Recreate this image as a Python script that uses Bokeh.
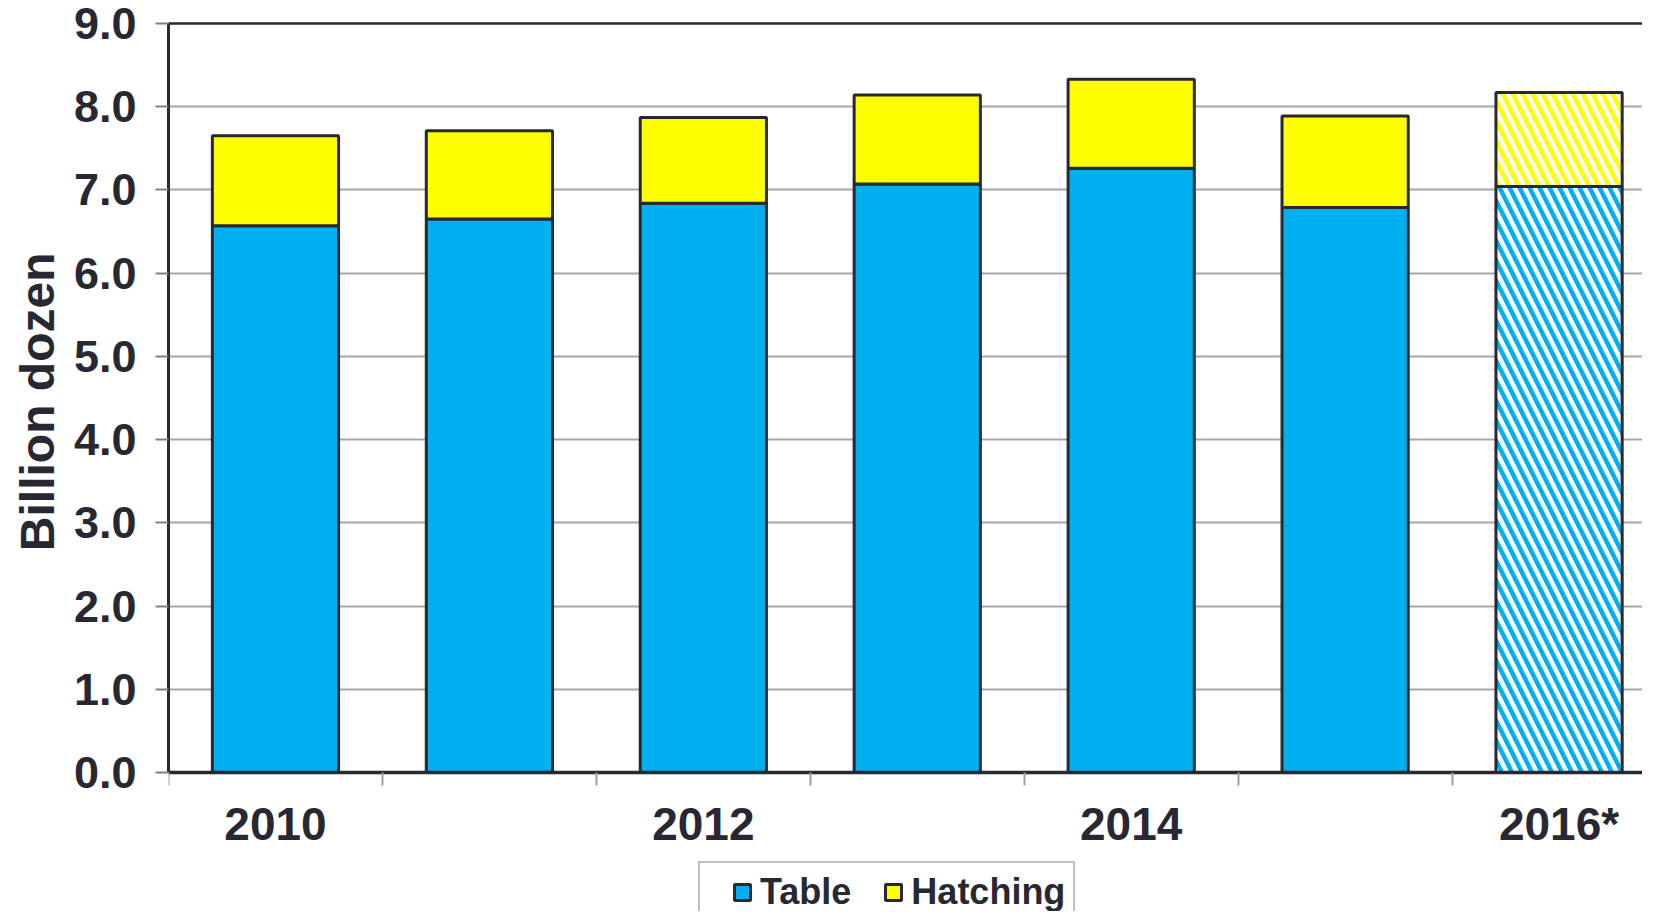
from bokeh.plotting import figure
from bokeh.models import (ColumnDataSource, FixedTicker, LinearAxis, Legend, LegendItem,
                          NumeralTickFormatter, Range1d, Title)
from bokeh.embed import file_html
from bokeh.resources import INLINE

years = ["2010", "2011", "2012", "2013", "2014", "2015", "2016*"]
table = [6.57, 6.65, 6.84, 7.07, 7.26, 6.79, 7.04]
hatching = [1.08, 1.06, 1.03, 1.07, 1.07, 1.10, 1.13]
estimate = [False, False, False, False, False, False, True]
shown_labels = ["2010", "2012", "2014", "2016*"]

BLUE = "#00B0F0"
YELLOW = "#FFFF00"
DARK = "#282833"
GRID = "#A6A6A6"
FONT = "Liberation Sans"

xs = [i + 0.5 for i in range(len(years))]
totals = [t + h for t, h in zip(table, hatching)]

def subset(flag):
    idx = [i for i, e in enumerate(estimate) if e == flag]
    return ColumnDataSource(dict(
        x=[xs[i] for i in idx],
        table=[table[i] for i in idx],
        total=[totals[i] for i in idx],
    ))

solid = subset(False)
est = subset(True)

# frame runs to the bottom of the canvas; the value axis spans 0..9 (23px..772px)
Y_MIN = -(911 - 772) / ((772 - 23) / 9)

p = figure(width=1642, height=911, output_backend="svg", toolbar_location=None,
           x_range=Range1d(0, 6.89), y_range=Range1d(Y_MIN, 9),
           min_border_left=168, min_border_right=0, min_border_top=23,
           min_border_bottom=0, x_axis_location=None, y_axis_location=None)
p.outline_line_color = None
p.background_fill_color = "white"

bar_w = 0.59
r_table = p.vbar(x="x", bottom=0, top="table", width=bar_w, source=solid,
                 fill_color=BLUE, line_color=DARK, line_width=3)
r_hatch = p.vbar(x="x", bottom="table", top="total", width=bar_w, source=solid,
                 fill_color=YELLOW, line_color=DARK, line_width=3)
p.vbar(x="x", bottom=0, top="table", width=bar_w, source=est,
       fill_color="white", line_color=DARK, line_width=3,
       hatch_pattern="left_diagonal_line", hatch_color=BLUE, hatch_scale=20, hatch_weight=4.5)
p.vbar(x="x", bottom="table", top="total", width=bar_w, source=est,
       fill_color="white", line_color=DARK, line_width=3,
       hatch_pattern="left_diagonal_line", hatch_color=YELLOW, hatch_scale=20, hatch_weight=4.5)

# y axis
yax = LinearAxis(ticker=FixedTicker(ticks=list(range(10))),
                 formatter=NumeralTickFormatter(format="0.0"), bounds=(0, 9))
yax.axis_line_color = DARK
yax.axis_line_width = 3
yax.major_tick_line_color = "#808080"
yax.major_tick_line_width = 2
yax.major_tick_out = 13
yax.major_tick_in = 0
yax.minor_tick_line_color = None
yax.major_label_text_font = FONT
yax.major_label_text_font_style = "bold"
yax.major_label_text_font_size = "45px"
yax.major_label_text_color = DARK
yax.major_label_standoff = 19
p.add_layout(yax, "left")

# y axis title, centred on the 0..9 span
ytitle = Title(text="Billion dozen", align="right", offset=229,
               text_font=FONT, text_font_style="bold", text_font_size="48px",
               text_color=DARK, standoff=14)
p.add_layout(ytitle, "left")

# x axis, pinned at value 0
label_pos = [xs[years.index(l)] for l in shown_labels]
xax = LinearAxis(ticker=FixedTicker(ticks=label_pos, minor_ticks=list(range(len(years) + 1))),
                 fixed_location=0)
xax.major_label_overrides = {pos: lab for pos, lab in zip(label_pos, shown_labels)}
xax.axis_line_color = DARK
xax.axis_line_width = 3.5
xax.major_tick_line_color = None
xax.major_tick_out = 0
xax.major_tick_in = 0
xax.minor_tick_line_color = "#A0A0A0"
xax.minor_tick_line_width = 2
xax.minor_tick_out = 13
xax.minor_tick_in = 0
xax.major_label_text_font = FONT
xax.major_label_text_font_style = "bold"
xax.major_label_text_font_size = "46px"
xax.major_label_text_color = DARK
xax.major_label_standoff = 12
p.add_layout(xax, "below")

# top frame line
tax = LinearAxis(ticker=FixedTicker(ticks=[]))
tax.axis_line_color = DARK
tax.axis_line_width = 2.5
tax.major_tick_line_color = None
tax.minor_tick_line_color = None
tax.major_label_text_font_size = "0px"
p.add_layout(tax, "above")

p.ygrid.ticker = FixedTicker(ticks=list(range(10)))
p.ygrid.grid_line_color = GRID
p.ygrid.grid_line_width = 2
p.xgrid.grid_line_color = None

legend = Legend(items=[LegendItem(label="Table", renderers=[r_table]),
                       LegendItem(label="Hatching", renderers=[r_hatch])],
                location=(530, -12), orientation="horizontal")
legend.label_text_font = FONT
legend.label_text_font_style = "bold"
legend.label_text_font_size = "36px"
legend.label_text_color = DARK
legend.glyph_width = 20
legend.glyph_height = 20
legend.label_standoff = 8
legend.spacing = 32
legend.padding = 8
legend.margin = 0
legend.title = " "
legend.title_location = "left"
legend.title_text_font_size = "1px"
legend.title_standoff = 23
legend.border_line_color = "#808080"
legend.border_line_width = 2
legend.background_fill_color = "white"
p.add_layout(legend, "center")

open("out.html", "w").write(file_html(p, INLINE))
